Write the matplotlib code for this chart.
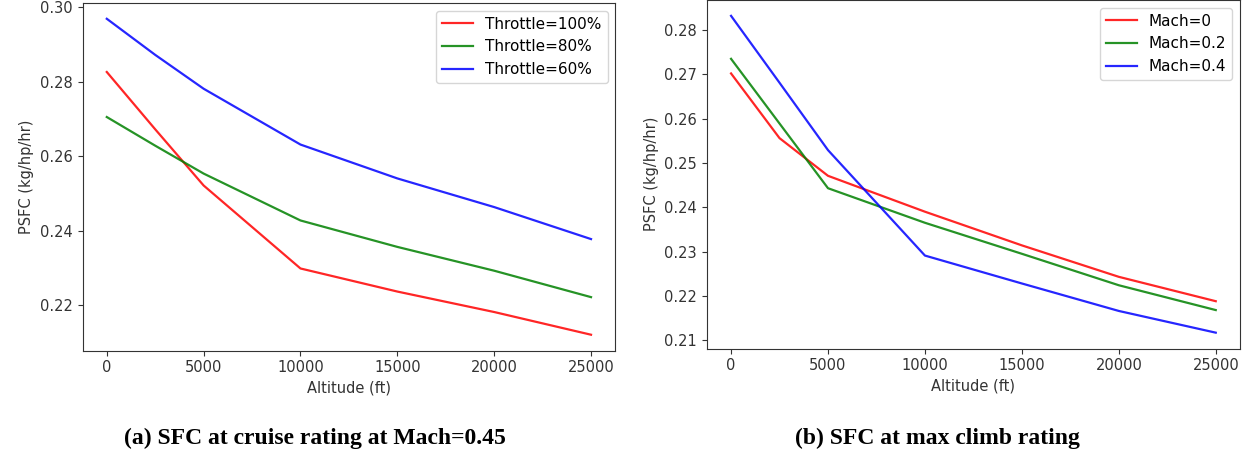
import matplotlib
matplotlib.use("Agg")
import matplotlib.pyplot as plt

# ---- data ----
altitude = [0, 2500, 5000, 10000, 15000, 20000, 25000]

cruise_labels = ["Throttle=100%", "Throttle=80%", "Throttle=60%"]
cruise_100 = [0.2826, 0.2672, 0.2521, 0.2298, 0.2236, 0.2181, 0.2120]
cruise_80 = [0.2705, 0.2628, 0.2553, 0.2427, 0.2356, 0.2292, 0.2221]
cruise_60 = [0.2969, 0.2872, 0.2781, 0.2631, 0.2540, 0.2463, 0.2377]

climb_labels = ["Mach=0", "Mach=0.2", "Mach=0.4"]
climb_m0 = [0.2702, 0.2556, 0.2471, 0.2390, 0.2314, 0.2243, 0.2188]
climb_m02 = [0.2735, 0.2589, 0.2443, 0.2365, 0.2295, 0.2224, 0.2168]
climb_m04 = [0.2832, 0.2681, 0.2529, 0.2291, 0.2228, 0.2166, 0.2117]

xlabel = "Altitude (ft)"
ylabel = "PSFC (kg/hp/hr)"
caption_a = "(a) SFC at cruise rating at Mach=0.45"
caption_b = "(b) SFC at max climb rating"

colors = ["r", "g", "b"]

plt.rcParams["font.family"] = ["DejaVu Sans"]
plt.rcParams["font.size"] = 10.5

fig = plt.figure(figsize=(12.51, 4.57), dpi=100)
ax1 = fig.add_axes([0.0660, 0.233, 0.4258, 0.7605])
ax2 = fig.add_axes([0.565, 0.2374, 0.4262, 0.7626])

for ys, lab, c in zip([cruise_100, cruise_80, cruise_60], cruise_labels, colors):
    ax1.plot(altitude, ys, color=c, label=lab, linewidth=1.6, alpha=0.85)
for ys, lab, c in zip([climb_m0, climb_m02, climb_m04], climb_labels, colors):
    ax2.plot(altitude, ys, color=c, label=lab, linewidth=1.6, alpha=0.85)

for ax in (ax1, ax2):
    ax.set_xlabel(xlabel, color="#333333")
    ax.set_ylabel(ylabel, color="#333333")
    ax.set_xticks([0, 5000, 10000, 15000, 20000, 25000])
    ax.tick_params(colors="#333333", labelcolor="#333333")
    for s in ax.spines.values():
        s.set_color("#333333")
    ax.legend(loc="upper right", fontsize=11)

ax1.set_yticks([0.22, 0.24, 0.26, 0.28, 0.30])
ax1.set_yticklabels(["0.22", "0.24", "0.26", "0.28", "0.30"])

fig.text(0.252, 0.040, caption_a, ha="center", va="center",
         family="Liberation Serif", fontweight="bold", fontsize=17)
fig.text(0.749, 0.040, caption_b, ha="center", va="center",
         family="Liberation Serif", fontweight="bold", fontsize=17)

fig.savefig("out.png", dpi=100)
